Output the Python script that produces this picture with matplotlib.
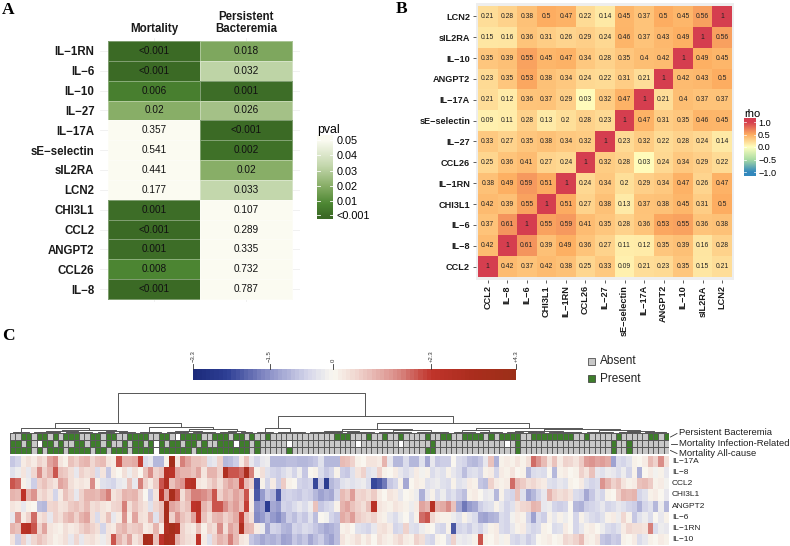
import numpy as np
import matplotlib
matplotlib.use("Agg")
import matplotlib.pyplot as plt
from matplotlib.colors import LinearSegmentedColormap, ListedColormap, Normalize
from matplotlib.patches import Rectangle
from matplotlib.lines import Line2D

plt.rcParams['font.family'] = ['Liberation Sans', 'DejaVu Sans']
SERIF = ['Liberation Serif', 'DejaVu Serif']

# ---------------- Panel A data ----------------
a_genes = ["IL−1RN", "IL−6", "IL−10", "IL−27", "IL−17A", "sE−selectin", "sIL2RA",
           "LCN2", "CHI3L1", "CCL2", "ANGPT2", "CCL26", "IL−8"]
a_mort = ["<0.001", "<0.001", "0.006", "0.02", "0.357", "0.541", "0.441", "0.177",
          "0.001", "<0.001", "0.001", "0.008", "<0.001"]
a_pb = ["0.018", "0.032", "0.001", "0.026", "<0.001", "0.002", "0.02", "0.033",
        "0.107", "0.289", "0.335", "0.732", "0.787"]
a_cols = ["Mortality", "Persistent\nBacteremia"]
a_cb_ticks = [0.05, 0.04, 0.03, 0.02, 0.01, 0.001]
a_cb_labels = ["0.05", "0.04", "0.03", "0.02", "0.01", "<0.001"]

# ---------------- Panel B data ----------------
b_genes = ["CCL2", "IL−8", "IL−6", "CHI3L1", "IL−1RN", "CCL26", "IL−27", "sE−selectin",
           "IL−17A", "ANGPT2", "IL−10", "sIL2RA", "LCN2"]
b_rho = [
    [1, 0.42, 0.37, 0.42, 0.38, 0.25, 0.33, 0.09, 0.21, 0.23, 0.35, 0.15, 0.21],
    [0.42, 1, 0.61, 0.39, 0.49, 0.36, 0.27, 0.11, 0.12, 0.35, 0.39, 0.16, 0.28],
    [0.37, 0.61, 1, 0.55, 0.59, 0.41, 0.35, 0.28, 0.36, 0.53, 0.55, 0.36, 0.38],
    [0.42, 0.39, 0.55, 1, 0.51, 0.27, 0.38, 0.13, 0.37, 0.38, 0.45, 0.31, 0.5],
    [0.38, 0.49, 0.59, 0.51, 1, 0.24, 0.34, 0.2, 0.29, 0.34, 0.47, 0.26, 0.47],
    [0.25, 0.36, 0.41, 0.27, 0.24, 1, 0.32, 0.28, 0.03, 0.24, 0.34, 0.29, 0.22],
    [0.33, 0.27, 0.35, 0.38, 0.34, 0.32, 1, 0.23, 0.32, 0.22, 0.28, 0.24, 0.14],
    [0.09, 0.11, 0.28, 0.13, 0.2, 0.28, 0.23, 1, 0.47, 0.31, 0.35, 0.46, 0.45],
    [0.21, 0.12, 0.36, 0.37, 0.29, 0.03, 0.32, 0.47, 1, 0.21, 0.4, 0.37, 0.37],
    [0.23, 0.35, 0.53, 0.38, 0.34, 0.24, 0.22, 0.31, 0.21, 1, 0.42, 0.43, 0.5],
    [0.35, 0.39, 0.55, 0.45, 0.47, 0.34, 0.28, 0.35, 0.4, 0.42, 1, 0.49, 0.45],
    [0.15, 0.16, 0.36, 0.31, 0.26, 0.29, 0.24, 0.46, 0.37, 0.43, 0.49, 1, 0.56],
    [0.21, 0.28, 0.38, 0.5, 0.47, 0.22, 0.14, 0.45, 0.37, 0.5, 0.45, 0.56, 1],
]
b_ticks = [1.0, 0.5, 0.0, -0.5, -1.0]
b_tick_labels = ["1.0", "0.5", "0.0", "−0.5", "−1.0"]

# ---------------- Panel C data ----------------
c_genes = ["IL−17A", "IL−8", "CCL2", "CHI3L1", "ANGPT2", "IL−6", "IL−1RN", "IL−10"]
c_il17a = [-0.8,-0.6,0.2,0.4,0.2,0.6,0.4,1.2,1.5,0.3, 0.1,0.8,0.6,0.9,1.0,0.5,0.8,0.9,0.3,0.2,
           2.0,1.0,1.0,1.1,2.2,-0.5,-0.3,-1.0,-1.0,0.1, 3.8,0.3,1.6,1.2,0.8,0.8,0.7,-0.4,-0.3,0.6,
           -1.0, -0.9,-0.7,0.2,0.8,-0.3,-0.6,
           -0.3,-0.2,-1.0,-1.0,-1.0,-0.9,-0.9,-1.0,-1.0,-0.9, -0.8,-0.4,-1.0,-1.0,-1.0,0.9,0.8,0.6,0.1,0.0,
           0.3,0.3,0.2,1.0,-0.3,-1.0,-1.0,-0.5,-1.0,-1.0, -0.4,-1.2,-0.3,-0.8,-0.7,
           -0.7,0.0,-0.5,-0.6,-0.9,-1.0,-0.8,-0.3,0.8,-1.1, 0.1,0.2,0.1,0.3,0.1,0.4,1.8,1.4,0.9,0.3,
           0.8,0.2,0.6,0.5,0.3,0.7,1.3,1.4,1.2,1.3, 1.1,-1.3,-0.5,-0.6,-0.4,0.1,0.0,0.2,0.9,0.6, 1.5,0.4]
c_il8 = [-0.4,-0.2,0.3,-0.3,0.5,1.5,0.6,1.0,2.0,0.8, 0.7,0.4,-0.3,0.6,0.4,0.5,-0.5,0.3,-0.8,0.2,
         0.0,0.4,-0.2,0.4,0.0,0.8,1.5,0.6,0.8,2.8, 2.5,1.2,1.0,1.0,0.8,1.2,0.3,1.0,1.0,0.6,
         3.0, 2.0,2.0,1.8,3.2,1.6,0.1,
         0.4,-0.4,-0.6,-0.7,-0.5,-0.3,-0.6,-0.2,-0.8,0.0, 0.1,-0.5,-0.8,-0.6,0.1,-0.7,-0.8,-0.4,0.3,0.6,
         -0.4,-0.3,0.6,0.1,0.0,0.2,-0.3,-0.5,-0.3,0.2, -0.1,0.1,-0.5,-0.3,-0.4,
         0.1,-0.3,-0.5,-0.9,-0.5,-0.4,-0.6,0.1,0.2,-0.6, 0.2,0.1,0.3,0.0,0.1,-1.0,-0.5,-0.4,-0.5,0.0,
         -1.0,0.1,0.2,0.0,0.1,0.6,0.3,0.8,-0.3,-0.4, -0.2,-0.3,-0.5,-0.2,-0.6,0.1,-1.1,0.0,0.2,-0.1, 0.1,-0.3]
c_ccl2 = [2.0,1.8,0.1,-0.2,-0.7,0.6,0.8,0.5,0.3,1.2, 1.0,0.4,0.2,0.3,0.2,1.5,0.1,-0.4,-0.5,-0.6,
          -0.3,-0.2,0.8,-0.3,1.6,0.6,0.2,0.7,2.0,3.0, 0.8,1.2,1.4,2.6,2.8,0.3,0.2,0.5,0.8,0.4,
          0.9, 1.2,1.0,2.2,0.9,0.6,-2.3,
          0.1,-0.6,0.2,-0.7,0.7,0.1,0.0,-0.6,-0.7,-0.6, -2.4,-0.8,-2.6,-1.0,-0.8,-0.4,-0.3,-0.4,-0.3,-0.2,
          -0.5,-2.4,-2.2,-1.8,-0.8,-0.6,0.1,-1.2,0.0,0.2, 0.1,-0.4,-0.3,-0.2,-0.4,
          -0.5,0.1,-0.4,-0.3,0.2,0.1,-0.8,-0.9,0.6,0.2, 0.1,0.2,1.8,0.9,0.7,0.4,0.5,0.3,0.2,-0.4,
          -0.5,-0.3,-0.4,0.1,0.0,0.2,-0.4,-0.6,-0.5,1.4, 1.0,0.6,0.8,0.3,0.1,0.2,0.8,0.9,0.7,0.1, 0.2,-0.1]
c_chi3l1 = [1.0,0.9,2.4,1.0,1.4,0.4,0.6,0.3,-0.6,0.2, 0.8,0.5,-0.3,0.6,1.0,1.0,0.9,1.2,1.6,0.3,
            0.5,1.0,0.9,1.0,0.5,0.0,-0.7,0.3,2.6,1.2, 3.4,2.0,0.4,1.0,1.6,1.6,1.5,1.2,2.0,0.6,
            1.0, 0.8,1.2,0.9,2.0,0.2,-2.2,
            -1.4,-0.8,-1.0,-2.2,-0.7,-0.6,-0.7,-0.8,-0.6,-0.7, -1.0,-1.3,-1.1,-1.2,-0.6,0.9,0.7,1.3,0.5,0.6,
            0.4,0.7,0.2,0.0,0.3,0.2,-0.3,0.0,0.1,-0.2, -1.1,-0.3,0.1,-0.5,-0.2,
            -0.6,-0.4,-0.7,-0.9,0.1,0.2,0.0,-0.3,-0.2,-1.0, 0.1,-0.5,-0.6,0.8,-0.4,-1.3,-1.0,-0.6,-0.3,1.0,
            0.6,0.4,0.5,0.3,-0.5,-0.6,-1.2,-0.8,-0.4,-0.6, 0.1,0.0,0.6,1.0,0.9,1.0,-0.6,-0.4,0.1,0.2, 0.0,-0.3]
c_angpt2 = [0.3,0.2,-0.3,0.1,0.0,-0.9,-1.0,0.5,0.6,0.3, 0.4,0.7,0.8,0.6,0.9,0.4,0.5,0.3,0.2,0.5,
            0.6,1.6,0.4,0.8,0.5,0.3,-0.4,0.5,0.8,3.5, 1.2,1.0,0.6,0.8,2.4,2.6,1.0,0.7,2.0,2.0,
            1.5, 1.0,1.3,0.8,2.2,0.2,-1.5,
            -1.3,-2.6,-1.2,-1.4,-0.6,-0.7,-0.5,-0.3,-0.5,-0.2, 0.8,-0.8,-0.6,-0.5,0.1,1.0,1.2,0.8,0.6,0.4,
            0.8,2.6,0.3,0.2,0.1,0.3,0.2,0.1,-0.2,0.2, 1.2,1.0,2.7,1.0,1.1,
            1.5,0.8,-1.2,-1.8,-1.4,-1.2,-0.7,-0.5,-0.4,0.1, -0.3,-0.6,-0.4,0.3,0.5,0.6,1.0,0.9,-0.3,-0.2,
            -0.6,-0.7,-0.6,0.0,-1.0,-1.1,-0.7,-0.6,-0.5,-0.3, -0.6,-0.5,-0.3,-0.4,-0.6,-0.7,-1.1,-0.6,-0.4,-1.0, -0.2,-1.0]
c_il6 = [-0.3,1.4,0.2,0.6,1.8,0.3,0.5,-0.3,0.6,0.4, 0.8,1.0,0.6,1.0,1.2,0.4,-0.5,0.3,0.8,-0.3,
         0.2,1.4,0.2,1.2,0.4,0.3,1.0,-0.4,0.8,3.5, 0.6,1.4,0.8,0.6,1.2,2.3,0.8,0.4,0.9,1.0,
         0.6, 0.8,1.1,2.2,0.8,0.4,-1.6,
         -1.4,-1.0,-1.4,-1.6,-1.2,-0.7,-0.9,-0.6,-0.8,-0.4, -0.9,0.0,-0.1,-0.6,-0.8,1.1,0.9,1.3,0.7,0.5,
         0.4,0.6,0.2,0.1,-0.3,-0.5,-0.2,0.0,-0.4,0.1, 1.8,2.0,0.5,0.2,0.1,
         0.1,-0.2,-0.4,0.1,-0.3,-0.5,-1.2,-1.3,-1.1,-1.0, -0.5,-0.6,-0.1,0.2,0.1,-0.6,-1.3,-0.5,-0.7,0.1,
         -0.3,0.1,-0.2,0.0,-0.6,0.1,-0.3,-0.5,-0.6,-0.4, 0.1,0.2,-0.2,0.5,0.1,-0.8,-0.4,-0.2,-0.5,0.0, -0.3,0.1]
c_il1rn = [1.0,0.8,2.6,2.8,2.0,0.6,1.2,0.3,0.2,0.1, 0.4,0.2,0.3,0.6,0.8,0.6,0.4,-0.6,0.3,0.2,
           0.8,1.0,0.6,0.7,0.8,0.2,0.3,1.0,0.2,3.0, 3.6,3.0,0.6,0.3,0.2,0.8,0.1,0.6,0.4,1.5,
           0.4, 1.2,0.9,3.0,1.0,0.9,0.2,
           -0.2,-1.2,-0.6,-0.7,-1.0,-1.1,-0.6,-0.7,-0.5,-0.6, -0.8,-1.0,-1.2,-1.1,-0.9,0.1,0.2,0.0,-0.4,-0.5,
           -0.6,-0.3,0.3,0.4,0.2,-0.6,-0.5,0.6,-0.4,-0.5, -0.2,0.1,0.0,-0.5,-0.6,
           0.1,-2.2,-0.6,-0.5,-0.7,-0.4,-0.6,-0.3,0.1,0.2, -0.5,-0.6,-0.3,0.1,0.2,-0.4,-0.6,-0.5,0.1,0.0,
           -0.5,-0.4,0.2,0.0,-0.6,-0.3,0.1,0.2,0.0,-0.2, -0.5,-0.6,-0.4,0.2,0.5,0.4,0.4,0.3,1.6,-0.5, -0.2,-0.3]
c_il10 = [0.3,-0.7,0.6,-0.3,0.5,0.8,0.6,0.3,0.1,0.2, 0.4,-0.3,0.5,-0.3,0.3,0.4,0.2,-0.2,0.3,2.0,
          1.0,0.6,1.2,0.3,0.6,3.5,3.2,0.8,2.4,3.4, 3.2,1.0,0.6,0.4,0.3,2.4,0.2,-0.4,0.6,1.0,
          0.8, 1.6,0.9,0.3,0.2,-0.8,-1.0,
          -1.2,-1.0,-1.1,-0.9,-1.3,-1.2,-0.8,-1.0,-0.8,-1.2, -0.9,-0.7,-1.1,-1.3,-0.9,0.3,0.1,0.2,0.4,0.1,
          0.3,0.0,0.4,0.2,0.1,0.3,0.5,0.2,0.1,0.6, 0.4,-0.5,-0.6,0.1,0.0,
          -0.5,0.6,-0.2,-0.3,-0.2,0.1,2.0,0.1,0.0,0.2, -0.1,0.1,-0.5,-0.6,-0.4,-0.7,-0.5,0.0,0.1,0.2,
          0.0,0.1,0.5,0.4,0.6,0.9,0.2,0.1,0.3,-0.8, -0.9,-0.7,-0.8,0.1,0.0,0.2,-0.5,-0.3,0.1,0.0, 0.2,0.1]

# annotation tracks: 1 = Present, 0 = Absent, . = missing
c_ann_names = ["Persistent Bacteremia", "Mortality Infection-Related", "Mortality All-cause"]
c_ann_pb = ("0011011010" "1110011011" "0011110011" "0.11110011" "1011010"
            "01" "000000000000" "111" "000" "1" "00" "1" "00" "1" "0000" "1" "00" "1"
            "1" "00" "1111" "0" "1" "0" "111" "1" "00" "11111111" "00" "1" "00000" "1" "00000" "11" "0" "1")
c_ann_mir = ("11010.1101" "0011011010" "0101101.10" "1101101001" "11.1101"
             "00000" "." "000000000000" "." "0000000" "." "00000" "1" "00"
             "00000000000" "." "0" "1" "00000000000000000" "1" "00" "1" "0000000")
c_ann_mac = ("1111010111" "0111101101" "1101111.11" "1111011111" "1111101"
             "00000" "1" "0000000000000000000000000" "11" "00"
             "0000000000000" "1" "00000000000000000" "1" "00" "1" "0000000")

# dendrogram: [merge height, left, right]; integers = small groups of adjacent columns
c_tree = [40,
          [10, [5, 4, [3.5, [2, 6, 6], 8]],
               [6, 5, [4, [2, 5, 5], [2.5, 4, 3]]]],
          [17, [5, 4, 6],
               [10, [4, [2.5, 7, 6], [3, 7, 7]],
                    [5, [3, 5, 5], [4.5, [2.5, 8, 7], [3, 6, 10]]]]]]

c_key_ticks = [-3.3, -1.5, 0, 2.3, 4.3]
c_key_labels = ["−3.3", "−1.5", "0", "+2.3", "+4.3"]
c_legend = ["Absent", "Present"]

# ---------------- figure ----------------
W, H = 790, 546
fig = plt.figure(figsize=(W / 100, H / 100), dpi=100)


def add_ax(x0, y0, x1, y1):
    return fig.add_axes([x0 / W, 1 - y1 / H, (x1 - x0) / W, (y1 - y0) / H])


def fx(x):
    return x / W


def fy(y):
    return 1 - y / H


for lab, x, y in [("A", 2, 2), ("B", 396, 1), ("C", 2, 328)]:
    fig.text(fx(x), fy(y), lab, fontsize=12.5, fontweight="bold", family=SERIF,
             ha="left", va="top")

# ---------- Panel A ----------
cmapA = LinearSegmentedColormap.from_list(
    "pv", [(0, "#3B6A25"), (0.16, "#4C8632"), (0.4, "#88AE67"), (0.66, "#C3D7AC"), (1, "#FBFBF1")])
normA = Normalize(0, 0.05)


def pnum(s):
    return 0.0 if s.startswith("<") else float(s)


P = np.array([[pnum(m), pnum(b)] for m, b in zip(a_mort, a_pb)])
nA = len(a_genes)
cwA, chA = 92.0, (299 - 41) / nA
axA = add_ax(100, 38, 300, 302)
axA.set_xlim(-8 / cwA, 2 + 8 / cwA)
axA.set_ylim(nA + 3 / chA, -3 / chA)
for i in range(nA):
    axA.axhline(i + 0.5, color="#EBEBEB", lw=0.5, zorder=0)
for j in range(2):
    axA.axvline(j + 0.5, color="#EBEBEB", lw=0.5, zorder=0)
axA.pcolormesh(np.arange(3), np.arange(nA + 1), P, cmap=cmapA, norm=normA,
               edgecolors=(1, 1, 1, 0.35), linewidth=0.6, zorder=1)
for i in range(nA):
    for j, s in enumerate([a_mort[i], a_pb[i]]):
        axA.text(j + 0.5, i + 0.5, s, ha="center", va="center", fontsize=7.2, color="#111111", zorder=2)
axA.set_yticks(np.arange(nA) + 0.5)
axA.set_yticklabels(a_genes, fontsize=8.3, fontweight="bold", color="#1A1A1A")
axA.set_xticks([])
axA.tick_params(axis="y", length=0, pad=4)
for s in axA.spines.values():
    s.set_visible(False)
for j, t in enumerate(a_cols):
    axA.text(j + 0.5, -0.3, t, ha="center", va="bottom", fontsize=8.3, fontweight="bold",
             linespacing=0.95, color="#1A1A1A")

# pval colorbar
lo, hi = -0.0016, 0.0533
axAc = add_ax(317, 135, 333, 219)
yy = np.linspace(lo, hi, 300)
axAc.imshow(yy[:, None], aspect="auto", cmap=cmapA, norm=normA, extent=[0, 1, lo, hi], origin="lower")
axAc.set_xlim(0, 1)
axAc.set_ylim(lo, hi)
axAc.yaxis.tick_right()
axAc.set_yticks(a_cb_ticks)
axAc.set_yticklabels(a_cb_labels, fontsize=7.8)
axAc.set_xticks([])
axAc.tick_params(axis="y", length=0, pad=2.5)
for s in axAc.spines.values():
    s.set_visible(False)
for t in a_cb_ticks:
    axAc.plot([0, 0.2], [t, t], color="white", lw=0.6)
    axAc.plot([0.8, 1], [t, t], color="white", lw=0.6)
fig.text(fx(317), fy(133), "pval", fontsize=8.8, ha="left", va="baseline")

# ---------- Panel B ----------
cmapB = LinearSegmentedColormap.from_list("rho", ["#3288BD", "#ABDDA4", "#FFFFBF", "#FDAE61", "#D53E4F"])
R = np.array(b_rho, dtype=float)
nB = len(b_genes)
cwB, chB = (732 - 478) / nB, (277 - 6) / nB
mx, my = 0.12, 0.12
axB = add_ax(478 - mx * cwB, 6 - my * chB, 732 + mx * cwB, 277 + my * chB)
axB.set_facecolor("#EEEEEE")
axB.set_xlim(-mx, nB + mx)
axB.set_ylim(-my, nB + my)
axB.pcolormesh(np.arange(nB + 1), np.arange(nB + 1), R, cmap=cmapB, vmin=-1, vmax=1)
for i in range(nB):
    for j in range(nB):
        v = R[i, j]
        s = "1" if v == 1 else ("%.2f" % v).rstrip("0").rstrip(".")
        axB.text(j + 0.5, i + 0.5, s, ha="center", va="center", fontsize=4.9, color="#222222")
axB.set_xticks(np.arange(nB) + 0.5)
axB.set_xticklabels(b_genes, rotation=90, fontsize=6.6, fontweight="bold", color="#1A1A1A")
axB.set_yticks(np.arange(nB) + 0.5)
axB.set_yticklabels(b_genes, fontsize=6.6, fontweight="bold", color="#1A1A1A")
axB.tick_params(length=2.5, width=0.6, color="#444444", pad=1.5)
for s in axB.spines.values():
    s.set_visible(False)

fig.text(fx(744), fy(117), "rho", fontsize=8, ha="left", va="baseline")
axBc = add_ax(744, 118, 756, 176)
lo2, hi2 = -1.16, 1.16
yy2 = np.linspace(lo2, hi2, 300)
axBc.imshow(yy2[:, None], aspect="auto", cmap=cmapB, vmin=-1, vmax=1, extent=[0, 1, lo2, hi2], origin="lower")
axBc.set_xlim(0, 1)
axBc.set_ylim(lo2, hi2)
axBc.yaxis.tick_right()
axBc.set_yticks(b_ticks)
axBc.set_yticklabels(b_tick_labels, fontsize=6.6)
axBc.set_xticks([])
axBc.tick_params(axis="y", length=0, pad=1.5)
for s in axBc.spines.values():
    s.set_visible(False)
for t in b_ticks:
    axBc.plot([0, 0.2], [t, t], color="white", lw=0.5)
    axBc.plot([0.8, 1], [t, t], color="white", lw=0.5)

# ---------- Panel C ----------
vmin, vmax = -3.3, 4.3
nodes = [(-3.3, "#1C2A7A"), (-2.5, "#2E3F95"), (-1.5, "#8E93C9"), (-0.6, "#D5D6EA"),
         (0.0, "#F9F7EF"), (0.6, "#EFD2CC"), (1.5, "#DA8D88"), (2.3, "#C0342B"),
         (3.3, "#AA2D1D"), (4.3, "#9C2F18")]
cmapC = LinearSegmentedColormap.from_list("hm", [((v - vmin) / (vmax - vmin), c) for v, c in nodes])
normC = Normalize(vmin, vmax)

V = np.array([c_il17a, c_il8, c_ccl2, c_chi3l1, c_angpt2, c_il6, c_il1rn, c_il10], dtype=float)
ncol = V.shape[1]
x0C, x1C = 10, 669

# color key
axK = add_ax(193, 369, 516, 380)
edges = np.linspace(vmin, vmax, 77)
mids = (edges[:-1] + edges[1:]) / 2
axK.pcolormesh(edges, [0, 1], mids[None, :], cmap=cmapC, norm=normC)
axK.set_xlim(vmin, vmax)
axK.set_ylim(0, 1)
axK.axis("off")
for t, l in zip(c_key_ticks, c_key_labels):
    xp = 193 + (t - vmin) / (vmax - vmin) * (516 - 193)
    fig.add_artist(Line2D([fx(xp), fx(xp)], [fy(369), fy(363.5)], color="#333333", lw=0.6))
    fig.text(fx(xp), fy(362.5), l, rotation=90, fontsize=4.3, ha="center", va="bottom", color="#333333")


# dendrogram
def expand(node):
    if isinstance(node, int):
        if node == 1:
            return 1
        k = node // 2
        return [0.45 * np.log2(node) + 0.2, expand(k), expand(node - k)]
    return [node[0], expand(node[1]), expand(node[2])]


axD = add_ax(x0C, 389, x1C, 433)
axD.set_xlim(0, ncol)
axD.set_ylim(0, 44)
axD.axis("off")


def draw(node, start):
    if not isinstance(node, list):
        return start + 0.5, 0.0, 1
    h, l, r = node
    xl, hl, nl = draw(l, start)
    xr, hr, nr = draw(r, start + nl)
    axD.plot([xl, xl, xr, xr], [hl, h, h, hr], color="#555555", lw=0.7, clip_on=False,
             solid_capstyle="butt")
    return (xl + xr) / 2, h, nl + nr


draw(expand(c_tree), 0)

# annotation tracks
code = {"0": 0, "1": 1, ".": 2}
A = np.array([[code[ch] for ch in row] for row in [c_ann_pb, c_ann_mir, c_ann_mac]])
axN = add_ax(x0C, 433, x1C, 454)
axN.pcolormesh(np.arange(ncol + 1), np.arange(4), A,
               cmap=ListedColormap(["#C8C8C8", "#3E7D2B", "#FFFFFF"]), vmin=-0.5, vmax=2.5,
               edgecolors="#5A5A5A", linewidth=0.45)
axN.set_xlim(0, ncol)
axN.set_ylim(3, 0)
axN.axis("off")

# heatmap
axH = add_ax(x0C, 456, x1C, 545)
axH.pcolormesh(np.arange(ncol + 1), np.arange(len(c_genes) + 1), V, cmap=cmapC, norm=normC)
axH.set_xlim(0, ncol)
axH.set_ylim(len(c_genes), 0)
axH.axis("off")
rh = (545 - 456) / len(c_genes)
for i, g in enumerate(c_genes):
    fig.text(fx(672), fy(456 + (i + 0.5) * rh), g, fontsize=6, ha="left", va="center", color="#222222")

# track labels
for name, ty, (ly0, ly1) in zip(c_ann_names, [432.5, 443.5, 454], [(437, 433.5), (443.5, 443.5), (450.5, 453.5)]):
    fig.text(fx(679), fy(ty), name, fontsize=6.8, ha="left", va="center", color="#222222")
    fig.add_artist(Line2D([fx(670.5), fx(677)], [fy(ly0), fy(ly1)], color="#333333", lw=0.6))

# legend
for lab, col, yc in zip(c_legend, ["#C8C8C8", "#3E7D2B"], [361.5, 378.5]):
    fig.add_artist(Rectangle((fx(588), fy(yc + 3.5)), 6.5 / W, 7 / H, transform=fig.transFigure,
                             facecolor=col, edgecolor="#333333", lw=0.5))
    fig.text(fx(600), fy(yc), lab, fontsize=8.5, ha="left", va="center", color="#222222")

fig.savefig("out.png", dpi=100)
